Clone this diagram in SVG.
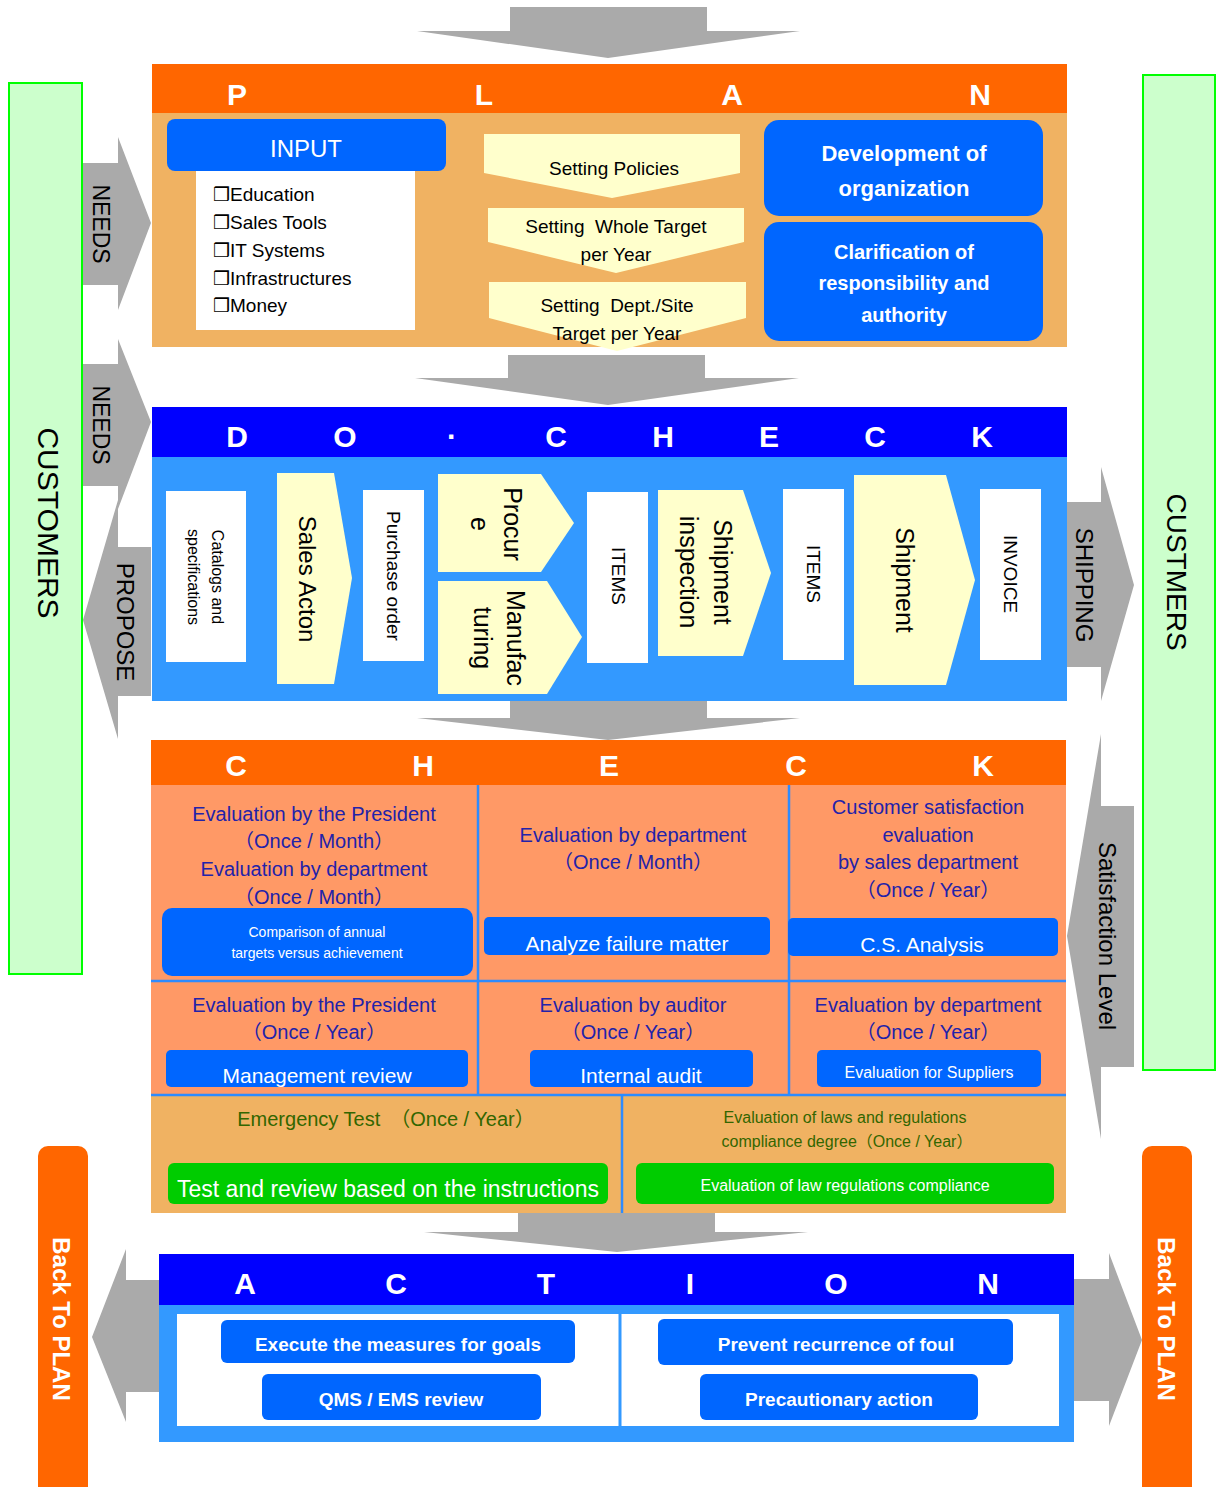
<svg xmlns="http://www.w3.org/2000/svg" width="1216" height="1487" viewBox="0 0 1216 1487">
<style>
text{font-family:"Liberation Sans","DejaVu Sans","Noto Sans CJK JP",sans-serif;dominant-baseline:central;}
.arrow{fill:#AAAAAA;}
.hdr{fill:#FFFFFF;font-weight:bold;font-size:30px;text-anchor:middle;}
.blue{fill:#0066FF;}
.yel{fill:#FFFFCC;}
.wbox{fill:#FFFFFF;}
.blk{fill:#000000;text-anchor:middle;}
.wt{fill:#FFFFFF;text-anchor:middle;}
.nv{fill:#2222AA;font-size:20px;text-anchor:middle;}
.gr{fill:#336600;text-anchor:middle;}
.div{stroke:#2E8BFF;stroke-width:2.5;}
.cust{fill:#CCFFCC;stroke:#00FF00;stroke-width:2;}
.li{font-size:19px;fill:#000000;}
</style>

<!-- connectors: grey flow arrows -->
<g id="connectors">
  <polygon class="arrow" points="510,7 707,7 707,31 800,31 608,58 417,31 510,31"/>
  <polygon class="arrow" points="508,355 705,355 705,378 799,378 608,405 415,378 508,378"/>
  <polygon class="arrow" points="510,701 707,701 707,718 800,718 608,740 417,718 510,718"/>
  <polygon class="arrow" points="518,1213 715,1213 715,1232 808,1232 617,1252 424,1232 518,1232"/>
  <polygon class="arrow" points="151,547 151,696 118,696 118,739 83,620 118,500 118,547"/>
  <polygon class="arrow" points="82,163 118,163 118,137 151,223 118,310 118,285 82,285"/>
  <polygon class="arrow" points="82,364 118,364 118,339 151,422 118,509 118,486 82,486"/>
  <polygon class="arrow" points="1067,502 1101,502 1101,467 1134,585 1101,701 1101,667 1067,667"/>
  <polygon class="arrow" points="1134,806 1134,1067 1101,1067 1101,1139 1067,936 1101,734 1101,806"/>
  <polygon class="arrow" points="159,1280 159,1392 126,1392 126,1422 92,1337 126,1249 126,1280"/>
  <polygon class="arrow" points="1074,1279 1109,1279 1109,1253 1142,1340 1109,1426 1109,1401 1074,1401"/>
  <text class="blk" font-size="23" transform="translate(101,224) rotate(90)">NEEDS</text>
  <text class="blk" font-size="23" transform="translate(101,425) rotate(90)">NEEDS</text>
  <text class="blk" font-size="24" transform="translate(125,622) rotate(90)">PROPOSE</text>
  <text class="blk" font-size="24" transform="translate(1084,585) rotate(90)">SHIPPING</text>
  <text class="blk" font-size="24" transform="translate(1107,936) rotate(90)">Satisfaction Level</text>
</g>

<!-- customers -->
<g id="customers-left">
  <rect class="cust" x="9" y="83" width="73" height="891"/>
  <text class="blk" font-size="30" transform="translate(48,523) rotate(90)">CUSTOMERS</text>
</g>
<g id="customers-right">
  <rect class="cust" x="1143" y="75" width="72" height="995"/>
  <text class="blk" font-size="28" transform="translate(1176,572) rotate(90)">CUSTMERS</text>
</g>

<!-- PLAN -->
<g id="plan">
  <rect x="152" y="64" width="915" height="49" fill="#FF6600"/>
  <rect x="152" y="113" width="915" height="234" fill="#F0B262"/>
  <text class="hdr" x="237" y="94">P</text>
  <text class="hdr" x="484" y="94">L</text>
  <text class="hdr" x="732" y="94">A</text>
  <text class="hdr" x="980" y="94">N</text>
</g>
<g id="input">
  <rect class="wbox" x="196" y="165" width="219" height="165"/>
  <rect class="blue" x="167" y="119" width="279" height="52" rx="8"/>
  <text class="wt" x="306" y="148" font-size="24">INPUT</text>
  <text class="li" x="213" y="194">❒Education</text>
  <text class="li" x="213" y="222">❒Sales Tools</text>
  <text class="li" x="213" y="250">❒IT Systems</text>
  <text class="li" x="213" y="278">❒Infrastructures</text>
  <text class="li" x="213" y="305">❒Money</text>
</g>
<g id="setting-policies">
  <polygon class="yel" points="484,134 740,134 740,173 612,198 484,173"/>
  <text class="blk" x="614" y="168" font-size="19">Setting Policies</text>
</g>
<g id="setting-whole-target">
  <polygon class="yel" points="488,208 744,208 744,242 616,273 488,242"/>
  <text class="blk" x="616" y="226" font-size="19" xml:space="preserve">Setting  Whole Target</text>
  <text class="blk" x="616" y="254" font-size="19">per Year</text>
</g>
<g id="setting-dept-target">
  <polygon class="yel" points="489,282 746,282 746,318 617,351 489,318"/>
  <text class="blk" x="617" y="305" font-size="19" xml:space="preserve">Setting  Dept./Site</text>
  <text class="blk" x="617" y="333" font-size="19">Target per Year</text>
</g>
<g id="development">
  <rect class="blue" x="764" y="120" width="279" height="96" rx="15"/>
  <text class="wt" x="904" y="153" font-size="22" font-weight="bold">Development of</text>
  <text class="wt" x="904" y="188" font-size="22" font-weight="bold">organization</text>
</g>
<g id="clarification">
  <rect class="blue" x="764" y="222" width="279" height="119" rx="15"/>
  <text class="wt" x="904" y="252" font-size="20" font-weight="bold">Clarification of</text>
  <text class="wt" x="904" y="283" font-size="20" font-weight="bold">responsibility and</text>
  <text class="wt" x="904" y="315" font-size="20" font-weight="bold">authority</text>
</g>

<!-- DO CHECK -->
<g id="do-check">
  <rect x="152" y="407" width="915" height="50" fill="#0000FF"/>
  <rect x="152" y="457" width="915" height="244" fill="#3399FF"/>
  <text class="hdr" x="237" y="436">D</text>
  <text class="hdr" x="345" y="436">O</text>
  <text class="hdr" x="452" y="436">·</text>
  <text class="hdr" x="556" y="436">C</text>
  <text class="hdr" x="663" y="436">H</text>
  <text class="hdr" x="769" y="436">E</text>
  <text class="hdr" x="875" y="436">C</text>
  <text class="hdr" x="982" y="436">K</text>
</g>
<g id="catalogs">
  <rect class="wbox" x="166" y="491" width="80" height="171"/>
  <text class="blk" font-size="16" transform="translate(217,577) rotate(90)">Catalogs and</text>
  <text class="blk" font-size="16" transform="translate(193,577) rotate(90)">specifications</text>
</g>
<g id="sales-action">
  <polygon class="yel" points="277,473 334,473 352,578 334,684 277,684"/>
  <text class="blk" font-size="24" transform="translate(307,579) rotate(90)">Sales Acton</text>
</g>
<g id="purchase-order">
  <rect class="wbox" x="363" y="490" width="61" height="171"/>
  <text class="blk" font-size="19" transform="translate(393,576) rotate(90)">Purchase order</text>
</g>
<g id="procure">
  <polygon class="yel" points="438,474 541,474 574,523 541,572 438,572"/>
  <text class="blk" font-size="25" transform="translate(513,524) rotate(90)">Procur</text>
  <text class="blk" font-size="25" transform="translate(480,524) rotate(90)">e</text>
</g>
<g id="manufacturing">
  <polygon class="yel" points="438,581 547,581 582,637 547,694 438,694"/>
  <text class="blk" font-size="25" transform="translate(516,638) rotate(90)">Manufac</text>
  <text class="blk" font-size="25" transform="translate(483,638) rotate(90)">turing</text>
</g>
<g id="items-1">
  <rect class="wbox" x="587" y="492" width="61" height="171"/>
  <text class="blk" font-size="19" transform="translate(618,576) rotate(90)">ITEMS</text>
</g>
<g id="shipment-inspection">
  <polygon class="yel" points="658,490 743,490 771,573 743,656 658,656"/>
  <text class="blk" font-size="25" transform="translate(723,572) rotate(90)">Shipment</text>
  <text class="blk" font-size="25" transform="translate(689,572) rotate(90)">inspection</text>
</g>
<g id="items-2">
  <rect class="wbox" x="783" y="489" width="61" height="171"/>
  <text class="blk" font-size="19" transform="translate(813,574) rotate(90)">ITEMS</text>
</g>
<g id="shipment">
  <polygon class="yel" points="854,475 946,475 975,580 946,685 854,685"/>
  <text class="blk" font-size="25" transform="translate(905,580) rotate(90)">Shipment</text>
</g>
<g id="invoice">
  <rect class="wbox" x="980" y="489" width="61" height="171"/>
  <text class="blk" font-size="19" transform="translate(1010,574) rotate(90)">INVOICE</text>
</g>

<!-- CHECK -->
<g id="check">
  <rect x="151" y="740" width="915" height="45" fill="#FF6600"/>
  <rect x="151" y="785" width="915" height="310" fill="#FF9966"/>
  <rect x="151" y="1095" width="915" height="118" fill="#F0B262"/>
  <line class="div" x1="478" y1="785" x2="478" y2="1095"/>
  <line class="div" x1="789" y1="785" x2="789" y2="1095"/>
  <line class="div" x1="151" y1="981" x2="1066" y2="981"/>
  <line class="div" x1="151" y1="1095" x2="1066" y2="1095"/>
  <line class="div" x1="622" y1="1095" x2="622" y2="1213"/>
  <text class="hdr" font-size="26" x="236" y="765">C</text>
  <text class="hdr" font-size="26" x="423" y="765">H</text>
  <text class="hdr" font-size="26" x="609" y="765">E</text>
  <text class="hdr" font-size="26" x="796" y="765">C</text>
  <text class="hdr" font-size="26" x="983" y="765">K</text>
</g>
<g id="eval-president-month">
  <text class="nv" x="314" y="814">Evaluation by the President</text>
  <text class="nv" x="314" y="841">（Once / Month）</text>
  <text class="nv" x="314" y="869">Evaluation by department</text>
  <text class="nv" x="314" y="897">（Once / Month）</text>
  <rect class="blue" x="162" y="908" width="311" height="68" rx="10"/>
  <text class="wt" x="317" y="932" font-size="14">Comparison of annual</text>
  <text class="wt" x="317" y="953" font-size="14">targets versus achievement</text>
</g>
<g id="eval-dept-month">
  <text class="nv" x="633" y="835">Evaluation by department</text>
  <text class="nv" x="633" y="862">（Once / Month）</text>
  <rect class="blue" x="484" y="917" width="286" height="38" rx="5"/>
  <text class="wt" x="627" y="943" font-size="21">Analyze failure matter</text>
</g>
<g id="customer-satisfaction">
  <text class="nv" x="928" y="807">Customer satisfaction</text>
  <text class="nv" x="928" y="835">evaluation</text>
  <text class="nv" x="928" y="862">by sales department</text>
  <text class="nv" x="928" y="890">（Once / Year）</text>
  <rect class="blue" x="788" y="918" width="270" height="38" rx="5"/>
  <text class="wt" x="922" y="944" font-size="21">C.S. Analysis</text>
</g>
<g id="management-review">
  <text class="nv" x="314" y="1005">Evaluation by the President</text>
  <text class="nv" x="314" y="1032">（Once / Year）</text>
  <rect class="blue" x="166" y="1050" width="302" height="37" rx="5"/>
  <text class="wt" x="317" y="1075" font-size="21">Management review</text>
</g>
<g id="internal-audit">
  <text class="nv" x="633" y="1005">Evaluation by auditor</text>
  <text class="nv" x="633" y="1032">（Once / Year）</text>
  <rect class="blue" x="530" y="1050" width="223" height="37" rx="5"/>
  <text class="wt" x="641" y="1075" font-size="21">Internal audit</text>
</g>
<g id="supplier-evaluation">
  <text class="nv" x="928" y="1005">Evaluation by department</text>
  <text class="nv" x="928" y="1032">（Once / Year）</text>
  <rect class="blue" x="817" y="1050" width="224" height="37" rx="5"/>
  <text class="wt" x="929" y="1072" font-size="16">Evaluation for Suppliers</text>
</g>
<g id="emergency-test">
  <text class="gr" x="386" y="1119" font-size="20">Emergency Test　（Once / Year）</text>
  <rect x="168" y="1163" width="440" height="41" rx="6" fill="#00CC00"/>
  <text class="wt" x="388" y="1189" font-size="23">Test and review based on the instructions</text>
</g>
<g id="law-compliance">
  <text class="gr" x="845" y="1117" font-size="16">Evaluation of laws and regulations</text>
  <text class="gr" x="847" y="1141" font-size="16">compliance degree（Once / Year）</text>
  <rect x="636" y="1163" width="418" height="41" rx="6" fill="#00CC00"/>
  <text class="wt" x="845" y="1185" font-size="16">Evaluation of law regulations compliance</text>
</g>

<!-- ACTION -->
<g id="action">
  <rect x="159" y="1254" width="915" height="51" fill="#0000FF"/>
  <rect x="159" y="1305" width="915" height="137" fill="#3399FF"/>
  <rect x="177" y="1314" width="882" height="112" fill="#FFFFFF"/>
  <line x1="620" y1="1314" x2="620" y2="1426" stroke="#3399FF" stroke-width="3"/>
  <text class="hdr" font-size="28" x="245" y="1283">A</text>
  <text class="hdr" font-size="28" x="396" y="1283">C</text>
  <text class="hdr" font-size="28" x="546" y="1283">T</text>
  <text class="hdr" font-size="28" x="690" y="1283">I</text>
  <text class="hdr" font-size="28" x="836" y="1283">O</text>
  <text class="hdr" font-size="28" x="988" y="1283">N</text>
</g>
<g id="execute-measures">
  <rect class="blue" x="221" y="1320" width="354" height="43" rx="6"/>
  <text class="wt" x="398" y="1344" font-size="19" font-weight="bold">Execute the measures for goals</text>
</g>
<g id="qms-ems-review">
  <rect class="blue" x="262" y="1374" width="279" height="46" rx="6"/>
  <text class="wt" x="401" y="1399" font-size="19" font-weight="bold">QMS / EMS review</text>
</g>
<g id="prevent-recurrence">
  <rect class="blue" x="658" y="1319" width="355" height="46" rx="6"/>
  <text class="wt" x="836" y="1344" font-size="19" font-weight="bold">Prevent recurrence of foul</text>
</g>
<g id="precautionary-action">
  <rect class="blue" x="700" y="1374" width="278" height="46" rx="6"/>
  <text class="wt" x="839" y="1399" font-size="19" font-weight="bold">Precautionary action</text>
</g>

<!-- Back to PLAN -->
<g id="back-left">
  <rect x="38" y="1146" width="50" height="360" rx="10" fill="#FF6600"/>
  <text class="wt" font-size="24" font-weight="bold" transform="translate(61,1319) rotate(90)">Back To PLAN</text>
</g>
<g id="back-right">
  <rect x="1142" y="1146" width="50" height="360" rx="10" fill="#FF6600"/>
  <text class="wt" font-size="24" font-weight="bold" transform="translate(1166,1319) rotate(90)">Back To PLAN</text>
</g>
</svg>
